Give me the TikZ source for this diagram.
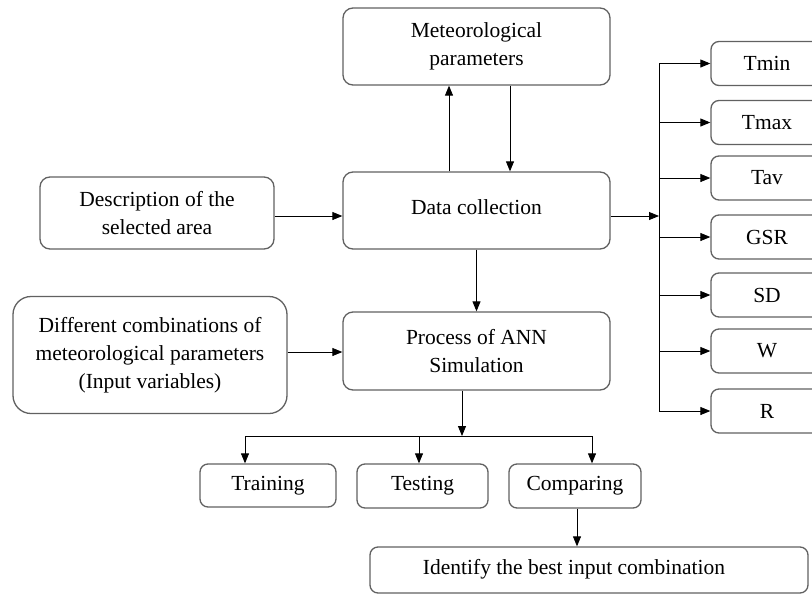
\documentclass[tikz,border=0pt]{standalone}
\usepackage{fontspec}
\setmainfont{Liberation Serif}
\usetikzlibrary{arrows.meta,calc}
\begin{document}
\begin{tikzpicture}[x=1pt,y=-1pt,
 box/.style={draw=black!62, line width=1.3pt, rounded corners=10pt, inner sep=0pt, align=center, font=\fontsize{21.5}{28}\selectfont},
 sbox/.style={box, rounded corners=8pt, minimum width=112pt, minimum height=44pt},
 lbl/.style={font=\fontsize{21.5}{28}\selectfont, inner sep=0pt},
 arr/.style={-{Triangle[length=10pt,width=8pt]}, line width=0.9pt},
 ln/.style={line width=0.9pt}]
\useasboundingbox (0,0) rectangle (812,595);
% main column
\node[box, minimum width=267pt, minimum height=77pt] (mp) at (476.5,46.5) {Meteorological\\parameters};
\node[box, minimum width=267pt, minimum height=77pt] (dc) at (476.5,210.5) {};
\node[lbl] (dct) at (476.5,207) {Data collection};
\node[box, minimum width=267pt, minimum height=78pt] (proc) at (476.5,351) {Process of ANN\\Simulation};
\node[box, minimum width=234pt, minimum height=72pt] (desc) at (157,213) {Description of the\\selected area};
\node[box, rounded corners=18pt, minimum width=274pt, minimum height=117pt] (diff) at (150,355) {Different combinations of\\meteorological parameters\\(Input variables)};
% right column
\node[sbox] (tmin) at (767,63.5) {Tmin};
\node[sbox] (tmax) at (767,122.5) {Tmax};
\node[sbox] (tav) at (767,178) {Tav};
\node[sbox] (gsr) at (767,237) {GSR};
\node[sbox] (sd) at (767,295) {SD};
\node[sbox] (w) at (767,351) {W};
\node[sbox] (r) at (767,411) {R};
% bottom
\node[box, rounded corners=8pt, minimum width=136pt, minimum height=43pt] (train) at (268,485.5) {Training};
\node[box, rounded corners=8pt, minimum width=131pt, minimum height=44pt] (test) at (422.5,486) {Testing};
\node[box, rounded corners=8pt, minimum width=132pt, minimum height=44pt] (cmp) at (575,486) {Comparing};
\node[box, rounded corners=8pt, minimum width=438pt, minimum height=46pt] (idf) at (589,570) {};
\node[lbl] (idft) at (574,569) {Identify the best input combination};
% connectors
\draw[arr] ([xshift=-27.5pt]dc.north) -- ([xshift=-27.5pt]mp.south);
\draw[arr] ([xshift=33.5pt]mp.south) -- ([xshift=33.5pt]dc.north);
\draw[arr] ([yshift=-3pt]desc.east) -- ([yshift=-3pt]desc.east -| dc.west);
\draw[arr] ([yshift=3pt]diff.east) -- ([yshift=3pt]diff.east -| proc.west);
\draw[arr] (dc.south) -- (proc.north);
% bus to right column
\coordinate (bus) at (659,216);
\draw[arr] (dc.east |- bus) -- (bus);
\draw[ln] (bus |- tmin.west) -- (bus |- r.west);
\foreach \n in {tmin,tmax,tav,gsr,sd,w,r} {\draw[arr] (bus |- \n.west) -- (\n.west);}
% split to bottom
\coordinate (split) at (462,436);
\coordinate (b1) at (245,436);
\coordinate (b2) at (419,436);
\coordinate (b3) at (592,436);
\draw[arr] (proc.south -| split) -- (split);
\draw[ln] (b1) -- (b3);
\draw[arr] (b1) -- (b1 |- train.north);
\draw[arr] (b2) -- (b2 |- test.north);
\draw[arr] (b3) -- (b3 |- cmp.north);
\draw[arr] ([xshift=2pt]cmp.south) -- ([xshift=2pt]cmp.south |- idf.north);
\end{tikzpicture}
\end{document}
